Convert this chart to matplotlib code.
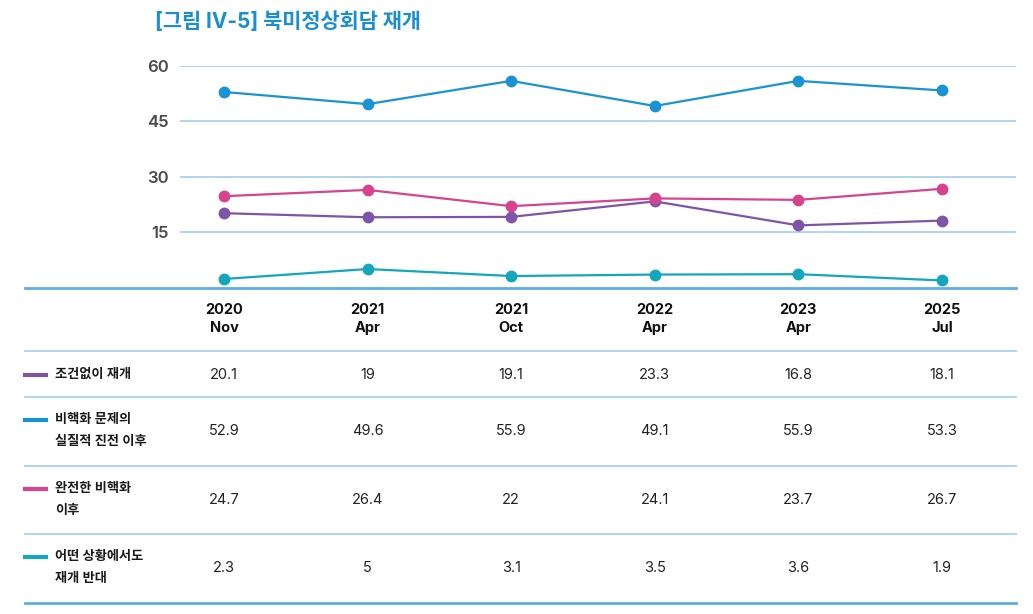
import matplotlib
matplotlib.use("Agg")
import matplotlib.pyplot as plt
import matplotlib.transforms as mtransforms
from matplotlib.lines import Line2D

plt.rcParams['font.family'] = ['Inter', 'Noto Sans CJK KR', 'DejaVu Sans']

# data
periods = ["2020\nNov", "2021\nApr", "2021\nOct", "2022\nApr", "2023\nApr", "2025\nJul"]
labels = ["조건없이 재개", "비핵화 문제의\n실질적 진전 이후", "완전한 비핵화\n이후", "어떤 상황에서도\n재개 반대"]
unconditional = [20.1, 19, 19.1, 23.3, 16.8, 18.1]
after_progress = [52.9, 49.6, 55.9, 49.1, 55.9, 53.3]
after_full = [24.7, 26.4, 22, 24.1, 23.7, 26.7]
oppose = [2.3, 5, 3.1, 3.5, 3.6, 1.9]
series = [unconditional, after_progress, after_full, oppose]
colors = ["#7E55A6", "#1A93D2", "#D6438F", "#13A6BD"]
yticks = [15, 30, 45, 60]

W, H = 1033, 614
fig = plt.figure(figsize=(W / 100, H / 100), dpi=100)


def fx(px):
    return px / W


def fy(py):
    return 1 - py / H


ax = fig.add_axes([fx(180), fy(287.5), fx(1016) - fx(180), fy(65.7) - fy(287.5)])
x = list(range(len(periods)))
ax.set_xlim(-0.306, 5.515)
ax.set_ylim(0, 60)

grid_c = "#AED6F1"
line_c = "#5DAEE2"
for v in yticks:
    ax.axhline(v, color=grid_c, lw=1.4, zorder=1)

for vals, c in zip(series, colors):
    ax.plot(x, vals, color=c, lw=1.6, marker="o", ms=7.5, zorder=3, clip_on=False)

ax.set_xticks([])
ax.set_yticks(yticks)
ax.set_yticklabels([str(v) for v in yticks], fontsize=12, color="#4a4a4a", fontweight="semibold")
ax.tick_params(axis="y", length=0, pad=8)
for s in ax.spines.values():
    s.set_visible(False)

fig.text(fx(155), fy(22), "[그림 IV-5] 북미정상회담 재개", fontsize=15, fontweight="bold",
         color="#1A8FD0", va="center", ha="left")

# table lines
def hline(py, c, lw):
    fig.add_artist(Line2D([fx(25), fx(1016)], [fy(py), fy(py)], color=c, lw=lw,
                          transform=fig.transFigure))


hline(288, line_c, 2.0)
for py in [351, 397, 466, 534]:
    hline(py, grid_c, 1.4)
hline(603, line_c, 2.0)

trans = mtransforms.blended_transform_factory(ax.transData, fig.transFigure)

# header
for i, p in enumerate(periods):
    fig.text(i, fy(319), p, transform=trans, ha="center", va="center", fontsize=10.5,
             fontweight="bold", color="#111111", linespacing=1.45)

row_y = [375, 431, 500, 568]
legend_y = [375, 420, 489, 557]
for r, (lab, vals, c) in enumerate(zip(labels, series, colors)):
    fig.add_artist(Line2D([fx(25), fx(46)], [fy(legend_y[r]), fy(legend_y[r])], color=c,
                          lw=3, transform=fig.transFigure))
    fig.text(fx(55), fy(row_y[r]), lab, ha="left", va="center", fontsize=9.5,
             fontweight="semibold", color="#1a1a1a", linespacing=2.05)
    for i, v in enumerate(vals):
        fig.text(i, fy(row_y[r]), f"{v:g}", transform=trans, ha="center", va="center",
                 fontsize=10.5, color="#222222")

fig.savefig("out.png", dpi=100)
